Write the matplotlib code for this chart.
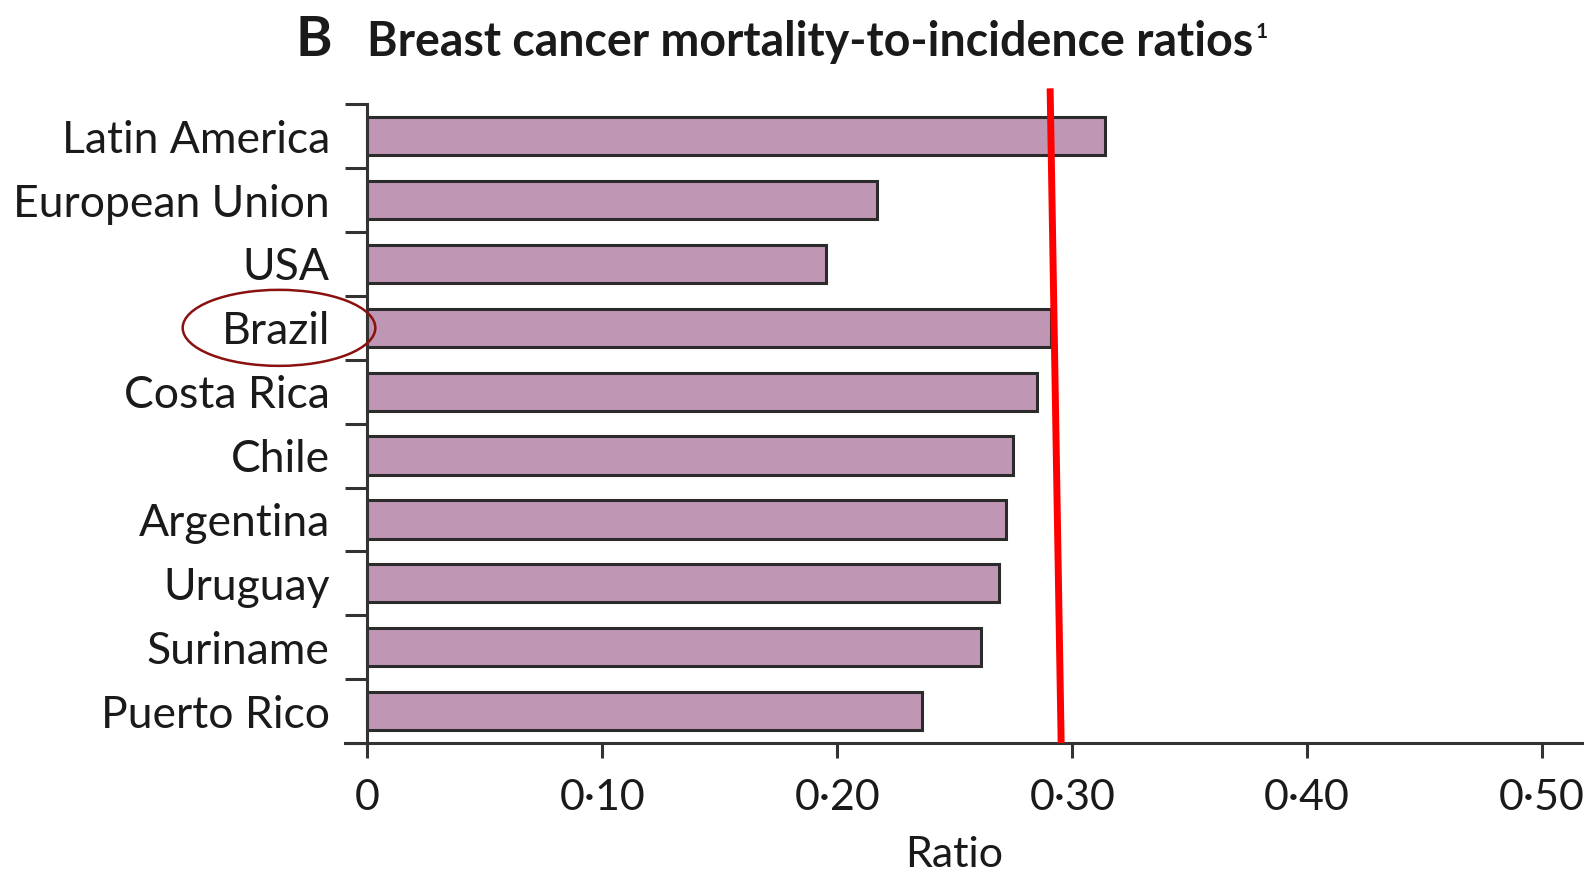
import numpy as np
import matplotlib
matplotlib.use("Agg")
import matplotlib.pyplot as plt
from matplotlib.patches import Ellipse

countries = ['Latin America', 'European Union', 'USA', 'Brazil', 'Costa Rica',
             'Chile', 'Argentina', 'Uruguay', 'Suriname', 'Puerto Rico']
ratios = [0.314, 0.217, 0.195, 0.291, 0.285, 0.275, 0.272, 0.269, 0.261, 0.236]
xticks = [0, 0.10, 0.20, 0.30, 0.40, 0.50]
xtick_labels = ['0', '0\u00b710', '0\u00b720', '0\u00b730', '0\u00b740', '0\u00b750']
# hand-drawn reference line (slightly slanted)
ref_x = [0.2906, 0.2953]
ref_y = [-0.75, 9.5]

plt.rcParams['font.family'] = ['Lato', 'DejaVu Sans']
txt = '#1a1a1a'
dark = '#333333'

fig = plt.figure(figsize=(15.9, 8.84), dpi=100)
ax = fig.add_axes([0.217, 0.1595, 0.778, 0.7225])

y = np.arange(len(countries))
ax.barh(y, ratios, height=0.6, color='#bf97b4', edgecolor='#2b2b2b', linewidth=2.2, zorder=2)

ax.set_xlim(-0.0095, 0.517)
ax.set_ylim(9.5, -0.5)

for s in ['top', 'right']:
    ax.spines[s].set_visible(False)
ax.spines['left'].set_position(('data', 0))
ax.spines['left'].set_color(dark)
ax.spines['left'].set_linewidth(2.2)
ax.spines['bottom'].set_color(dark)
ax.spines['bottom'].set_linewidth(2.2)

ax.set_yticks(y)
ax.set_yticklabels(countries, fontsize=32, color=txt)
ax.set_yticks(np.arange(-0.5, 10, 1), minor=True)
ax.tick_params(axis='y', which='major', length=0, pad=27)
ax.tick_params(axis='y', which='minor', length=16, width=2.2, color=dark, direction='out')

ax.set_xticks(xticks)
ax.set_xticklabels(xtick_labels, fontsize=31, color=txt)
ax.tick_params(axis='x', length=11, width=2.2, color=dark, pad=15)
ax.set_xlabel('Ratio', fontsize=31, color=txt)
ax.xaxis.set_label_coords(0.492, -0.145)

ax.plot(ref_x, ref_y, color='#ff0000', linewidth=5, clip_on=False, zorder=5, solid_capstyle='butt')

ell = Ellipse((-0.0376, 3), 0.082, 1.19, fill=False, edgecolor='#8b1010', linewidth=1.8,
              clip_on=False, zorder=6)
ax.add_patch(ell)

fig.text(0.186, 0.937, 'B', fontsize=40, fontweight='bold', color=txt, ha='left', va='baseline')
t = fig.text(0.231, 0.937, 'Breast cancer mortality-to-incidence ratios', fontsize=33.5,
             fontweight='bold', color=txt, ha='left', va='baseline')
fig.canvas.draw()
bb = t.get_window_extent().transformed(fig.transFigure.inverted())
fig.text(bb.x1 + 0.001, 0.957, '1', fontsize=15, fontweight='bold', color=txt,
         ha='left', va='baseline')

fig.savefig('out.png', dpi=100, facecolor='white')
